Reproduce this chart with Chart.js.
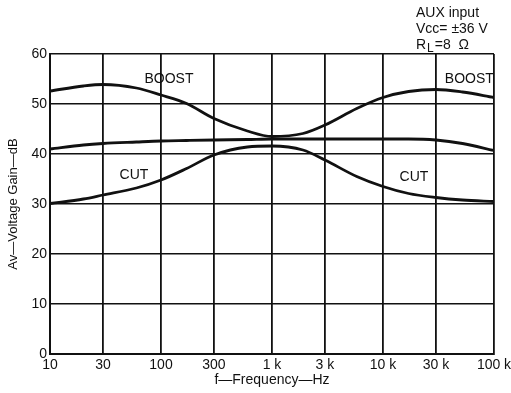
<!DOCTYPE html>
<html>
<head>
<meta charset="utf-8">
<script src="https://cdn.jsdelivr.net/npm/chart.js@4"></script>
<style>
  html, body { margin: 0; padding: 0; background: #fff; }
  #wrap { width: 511px; height: 393px; }
</style>
</head>
<body>
<div id="wrap"><canvas id="myChart" width="511" height="393"></canvas></div>
<script>
// Frequency points (Hz)
const freqs = [10, 20, 30, 60, 100, 170, 300, 600, 1000, 1900, 3000, 5800, 10000, 17000, 30000, 52000, 100000];
const boostGain = [52.6, 53.6, 53.9, 53.2, 51.8, 50.1, 47.1, 44.6, 43.5, 44.1, 45.8, 49.1, 51.3, 52.5, 52.9, 52.4, 51.3];
const flatGain = [41.0, 41.8, 42.1, 42.4, 42.6, 42.7, 42.8, 42.9, 43.0, 43.0, 43.0, 43.0, 43.0, 43.0, 42.8, 42.1, 40.7];
const cutGain = [30.1, 31.0, 31.8, 33.2, 34.8, 37.1, 39.8, 41.4, 41.6, 40.8, 38.8, 35.5, 33.5, 32.1, 31.3, 30.8, 30.5];

// Axis ticks
const xTickValues = [10, 30, 100, 300, 1000, 3000, 10000, 30000, 100000];
const xTickLabels = ['10', '30', '100', '300', '1 k', '3 k', '10 k', '30 k', '100 k'];
const yTickValues = [0, 10, 20, 30, 40, 50, 60];

// Curve labels [text, freq, dB]
const curveLabels = [
  ['BOOST', 118, 55.0],
  ['BOOST', 60000, 55.0],
  ['CUT', 57, 35.8],
  ['CUT', 19000, 35.4]
];
const noteLines = ['AUX input', 'Vcc= \u00b136 V'];

const FONT = '"Liberation Sans", Arial, sans-serif';
const INK = '#111';

function toPoints(ys) {
  return freqs.map((f, i) => ({ x: f, y: ys[i] }));
}

// draws the curve names and the condition note
const annotations = {
  id: 'annotations',
  afterDraw(chart) {
    const { ctx, scales: { x, y } } = chart;
    ctx.save();
    ctx.fillStyle = INK;
    ctx.font = '14px ' + FONT;
    ctx.textAlign = 'center';
    ctx.textBaseline = 'middle';
    curveLabels.forEach(([t, f, v]) => {
      ctx.fillText(t, x.getPixelForValue(f), y.getPixelForValue(v));
    });
    ctx.textAlign = 'left';
    ctx.fillText(noteLines[0], 416, 13);
    ctx.fillText(noteLines[1], 416, 29);
    // R_L with subscript
    ctx.fillText('R', 416, 45);
    const rw = ctx.measureText('R').width;
    ctx.font = '12px ' + FONT;
    ctx.fillText('L', 416 + rw + 1, 49);
    const lw = ctx.measureText('L').width;
    ctx.font = '14px ' + FONT;
    ctx.fillText('=8  \u03a9', 416 + rw + lw + 2, 45);
    ctx.restore();
  }
};

const ctx = document.getElementById('myChart');
const lineStyle = {
  borderColor: INK,
  borderWidth: 2.8,
  pointRadius: 0,
  fill: false,
  cubicInterpolationMode: 'monotone'
};

// eslint-disable-next-line no-unused-vars
const myChart = new Chart(ctx, {
  type: 'line',
  data: {
    datasets: [
      Object.assign({ label: 'Boost', data: toPoints(boostGain) }, lineStyle),
      Object.assign({ label: 'Flat', data: toPoints(flatGain) }, lineStyle),
      Object.assign({ label: 'Cut', data: toPoints(cutGain) }, lineStyle)
    ]
  },
  options: {
    responsive: false,
    animation: false,
    layout: { padding: { top: 54, right: 17, left: 0, bottom: 0 } },
    plugins: {
      legend: { display: false },
      tooltip: { enabled: false }
    },
    scales: {
      x: {
        type: 'logarithmic',
        min: 10,
        max: 100000,
        afterBuildTicks(scale) {
          scale.ticks = xTickValues.map(v => ({ value: v }));
        },
        afterFit(scale) {
          scale.height = 39;
          scale.paddingLeft = 0;
          scale.paddingRight = 0;
        },
        grid: { color: INK, lineWidth: 1.8, drawTicks: false },
        border: { color: INK, width: 2 },
        ticks: {
          color: INK,
          font: { family: FONT, size: 14 },
          padding: 3,
          maxRotation: 0,
          autoSkip: false,
          callback: (v) => {
            const i = xTickValues.indexOf(v);
            return i >= 0 ? xTickLabels[i] : '';
          }
        },
        title: {
          display: true,
          text: 'f\u2014Frequency\u2014Hz',
          color: INK,
          font: { family: FONT, size: 14 },
          padding: { top: 0, bottom: 4 }
        }
      },
      y: {
        min: 0,
        max: 60,
        afterBuildTicks(scale) {
          scale.ticks = yTickValues.map(v => ({ value: v }));
        },
        afterFit(scale) { scale.width = 50; },
        grid: { color: INK, lineWidth: 1.4, drawTicks: false },
        border: { color: INK, width: 2 },
        ticks: {
          color: INK,
          font: { family: FONT, size: 14 },
          padding: 3
        },
        title: {
          display: true,
          text: 'Av\u2014Voltage Gain\u2014dB',
          color: INK,
          font: { family: FONT, size: 13 },
          padding: { top: 6, bottom: 0 }
        }
      }
    }
  },
  plugins: [annotations]
});
</script>
</body>
</html>
